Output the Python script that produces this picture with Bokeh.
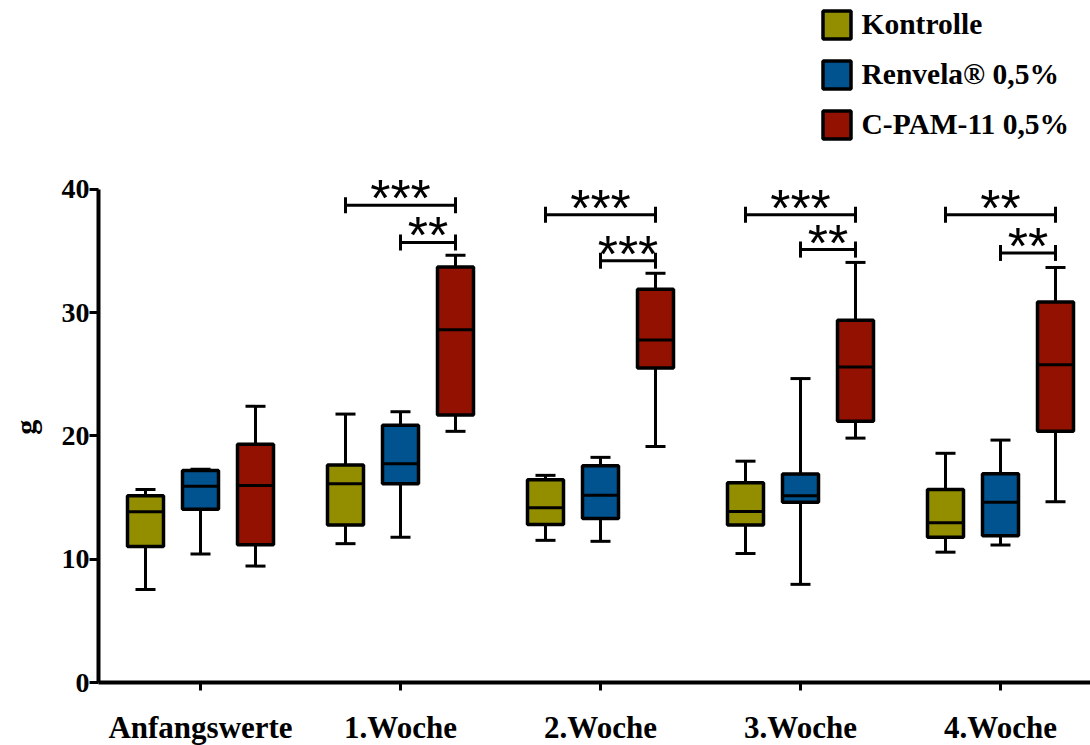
import math
from bokeh.plotting import figure
from bokeh.models import Range1d, FixedTicker, Legend, LegendItem
from bokeh.embed import file_html
from bokeh.resources import INLINE
from bokeh.core.properties import value

# ---------------- data ----------------
groups = ["Anfangswerte", "1.Woche", "2.Woche", "3.Woche", "4.Woche"]
series = ["Kontrolle", "Renvela\u00ae 0,5%", "C-PAM-11 0,5%"]
colors = ["#938E00", "#00538F", "#921100"]
y_label = ["g"]

kon_min = [7.55, 11.26, 11.53, 10.46, 10.57]
kon_q1 = [11.04, 12.77, 12.82, 12.77, 11.78]
kon_med = [13.84, 16.12, 14.17, 13.86, 12.96]
kon_q3 = [15.15, 17.63, 16.45, 16.20, 15.65]
kon_max = [15.65, 21.77, 16.80, 17.95, 18.59]

ren_min = [10.43, 11.78, 11.45, 7.96, 11.15]
ren_q1 = [14.06, 16.12, 13.31, 14.61, 11.91]
ren_med = [15.92, 17.74, 15.18, 15.15, 14.61]
ren_q3 = [17.19, 20.86, 17.57, 16.91, 16.94]
ren_max = [17.30, 21.96, 18.26, 24.65, 19.66]

cpam_min = [9.44, 20.37, 19.14, 19.82, 14.66]
cpam_q1 = [11.17, 21.69, 25.50, 21.19, 20.37]
cpam_med = [15.98, 28.61, 27.78, 25.59, 25.78]
cpam_q3 = [19.33, 33.69, 31.90, 29.38, 30.86]
cpam_max = [22.40, 34.65, 33.19, 34.07, 33.66]

# significance brackets (groups 1..4)
sig_groups = [1, 2, 3, 4]
sig_big_y = [38.71, 37.94, 37.94, 37.94]          # Kontrolle vs C-PAM-11
sig_big_txt = ["***", "***", "***", "**"]
sig_small_y = [35.69, 34.21, 35.11, 34.84]        # Renvela vs C-PAM-11
sig_small_txt = ["**", "***", "**", "**"]

y_ticks = [0, 10, 20, 30, 40]

# ---------------- layout ----------------
W, H = 1090, 745
ppu = 12.33              # pixels per y unit
px_per_group = 200.0
axis_px_x, axis_px_y = 98, 682     # where the axes cross, in canvas pixels
first_group_px = 200
x_start = (0 - first_group_px) / px_per_group
x_end = (W - first_group_px) / px_per_group
x_axis = (axis_px_x - first_group_px) / px_per_group
y_start = -(H - axis_px_y) / ppu
y_end = axis_px_y / ppu

offsets = [-0.275, 0.0, 0.275]
box_w = 0.18
cap_w = 0.10

p = figure(width=W, height=H, output_backend="svg", toolbar_location=None,
           x_range=Range1d(x_start, x_end), y_range=Range1d(y_start, y_end),
           min_border=0)
p.outline_line_color = None
p.grid.visible = False
p.background_fill_color = "white"
p.border_fill_color = "white"

stats = [
    (kon_min, kon_q1, kon_med, kon_q3, kon_max),
    (ren_min, ren_q1, ren_med, ren_q3, ren_max),
    (cpam_min, cpam_q1, cpam_med, cpam_q3, cpam_max),
]

box_renderers = []
for s, (mn, q1, md, q3, mx) in enumerate(stats):
    xs = [i + offsets[s] for i in range(len(groups))]
    p.segment(x0=xs, y0=q3, x1=xs, y1=mx, line_color="black", line_width=3)
    p.segment(x0=xs, y0=q1, x1=xs, y1=mn, line_color="black", line_width=3)
    p.segment(x0=[x - cap_w / 2 for x in xs], y0=mx, x1=[x + cap_w / 2 for x in xs], y1=mx,
              line_color="black", line_width=3)
    p.segment(x0=[x - cap_w / 2 for x in xs], y0=mn, x1=[x + cap_w / 2 for x in xs], y1=mn,
              line_color="black", line_width=3)
    r = p.vbar(x=xs, top=q3, bottom=q1, width=box_w, fill_color=colors[s],
               line_color="black", line_width=3.5)
    box_renderers.append(r)
    p.segment(x0=[x - box_w / 2 for x in xs], y0=md, x1=[x + box_w / 2 for x in xs], y1=md,
              line_color="black", line_width=3)

# brackets
tick_h = 0.65
for lo_off, ys, txts in [(offsets[0], sig_big_y, sig_big_txt), (offsets[1], sig_small_y, sig_small_txt)]:
    x0 = [g + lo_off for g in sig_groups]
    x1 = [g + offsets[2] for g in sig_groups]
    p.segment(x0=x0, y0=ys, x1=x1, y1=ys, line_color="black", line_width=3)
    p.segment(x0=x0, y0=[y - tick_h for y in ys], x1=x0, y1=[y + tick_h for y in ys],
              line_color="black", line_width=3)
    p.segment(x0=x1, y0=[y - tick_h for y in ys], x1=x1, y1=[y + tick_h for y in ys],
              line_color="black", line_width=3)
    p.text(x=[(a + b) / 2 for a, b in zip(x0, x1)], y=[y + 0.57 for y in ys], text=txts,
           text_font=value("Liberation Sans"), text_font_size="52px",
           text_align="center", text_baseline="alphabetic", text_color="black")

# axes (drawn at fixed data locations so that the frame fills the canvas)
serif = "Liberation Serif"
p.yaxis.fixed_location = x_axis
p.yaxis.ticker = FixedTicker(ticks=y_ticks)
p.yaxis.bounds = (y_ticks[0], y_ticks[-1])
p.yaxis.axis_line_width = 4
p.yaxis.major_tick_line_width = 3
p.yaxis.major_tick_out = 9
p.yaxis.major_tick_in = 0
p.yaxis.minor_tick_line_color = None
p.yaxis.major_label_text_font = serif
p.yaxis.major_label_text_font_style = "bold"
p.yaxis.major_label_text_font_size = "28px"
p.yaxis.major_label_text_color = "black"
p.yaxis.major_label_standoff = 0

# y axis title, centred on the 0-40 part of the axis
p.text(x=[x_axis - 73 / px_per_group], y=[(y_ticks[0] + y_ticks[-1]) / 2 + 0.7], text=y_label,
       angle=math.pi / 2, text_align="center", text_baseline="alphabetic",
       text_font=value(serif), text_font_style="bold", text_font_size="30px",
       text_color="black")

p.xaxis.fixed_location = 0
p.xaxis.bounds = (x_axis, x_end)
p.xaxis.ticker = FixedTicker(ticks=list(range(len(groups))))
p.xaxis.major_label_overrides = {i: g for i, g in enumerate(groups)}
p.xaxis.axis_line_width = 4
p.xaxis.major_tick_line_width = 3
p.xaxis.major_tick_out = 8
p.xaxis.major_tick_in = 0
p.xaxis.minor_tick_line_color = None
p.xaxis.major_label_text_font = serif
p.xaxis.major_label_text_font_style = "bold"
p.xaxis.major_label_text_font_size = "31px"
p.xaxis.major_label_text_color = "black"
p.xaxis.major_label_standoff = 19

legend = Legend(items=[LegendItem(label=series[i], renderers=[box_renderers[i]]) for i in range(3)],
                location=(818.5, H - 141.5))
legend.glyph_width = 35
legend.glyph_height = 35
legend.label_height = 35
legend.spacing = 15
legend.padding = 0
legend.margin = 0
legend.label_standoff = 8
legend.border_line_color = None
legend.background_fill_alpha = 0
legend.label_text_font = serif
legend.label_text_font_style = "bold"
legend.label_text_font_size = "29.5px"
legend.label_text_color = "black"
p.add_layout(legend, "center")

open("out.html", "w").write(file_html(p, INLINE))
